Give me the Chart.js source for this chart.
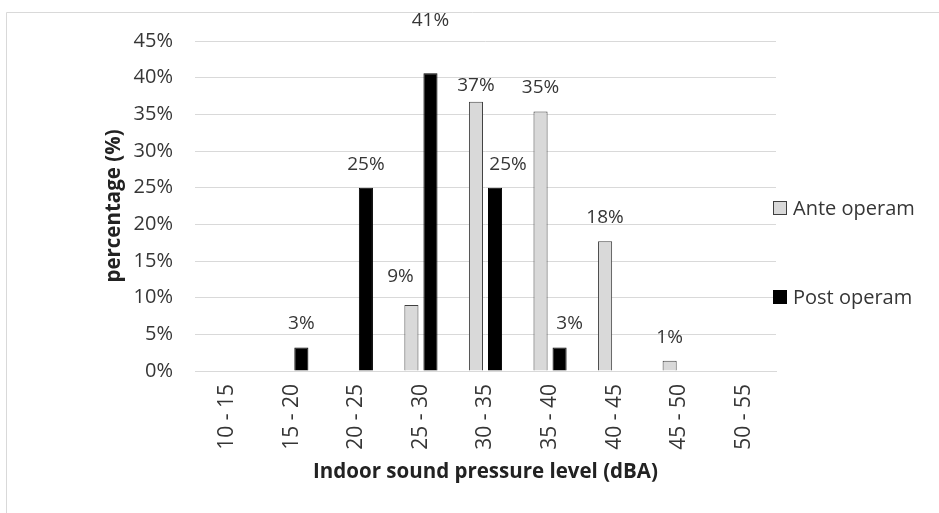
<!DOCTYPE html>
<html>
<head>
<meta charset="utf-8">
<title>Indoor sound pressure level</title>
<script src="https://cdn.jsdelivr.net/npm/chart.js@4/dist/chart.umd.min.js"></script>
<style>
  html, body { margin: 0; padding: 0; background: #ffffff; }
  #wrap { position: relative; width: 939px; height: 513px; }
</style>
</head>
<body>
<div id="wrap"><canvas id="chart"></canvas></div>
<script>
// Sound pressure bands (dBA)
const categories = ['10 - 15', '15 - 20', '20 - 25', '25 - 30', '30 - 35', '35 - 40', '40 - 45', '45 - 50', '50 - 55'];
// Share of measurements per band, in percent (null = no measurement in band)
const anteOperam = [null, null, null, 9.0, 36.7, 35.4, 17.7, 1.4, null];
const postOperam = [null, 3.2, 25.0, 40.6, 25.0, 3.2, null, null, null];
const seriesNames = ['Ante operam', 'Post operam'];
const yTicks = [0, 5, 10, 15, 20, 25, 30, 35, 40, 45];

// Hand placement of a few value labels so they do not collide
const labelNudgeAnte = [[0,0],[0,0],[0,0],[-11,-5],[0,7],[0,0],[0,0],[0,0],[0,0]];
const labelNudgePost = [[0,0],[0,0],[0,0],[0,-29],[13,0],[10,0],[0,0],[0,0],[0,0]];

const FONT = "'Open Sans', 'DejaVu Sans', sans-serif";
const TEXT = '#363636';

const valueLabels = {
  id: 'valueLabels',
  afterDatasetsDraw(chart) {
    const ctx = chart.ctx;
    ctx.save();
    ctx.font = '19px ' + FONT;
    ctx.fillStyle = TEXT;
    ctx.textAlign = 'center';
    ctx.textBaseline = 'middle';
    const nudges = [labelNudgeAnte, labelNudgePost];
    chart.data.datasets.forEach((ds, di) => {
      const meta = chart.getDatasetMeta(di);
      meta.data.forEach((bar, i) => {
        const v = ds.data[i];
        if (v === null || v === undefined) return;
        const [dx, dy] = nudges[di][i];
        ctx.fillText(Math.round(v) + '%', bar.x + dx, bar.y - 23.5 + dy);
      });
    });
    ctx.restore();
  }
};

const sideLegend = {
  id: 'sideLegend',
  afterDraw(chart) {
    const ctx = chart.ctx;
    const x = chart.chartArea.right - 3;
    const rows = [208, 297];
    ctx.save();
    ctx.font = '20px ' + FONT;
    ctx.textAlign = 'left';
    ctx.textBaseline = 'middle';
    chart.data.datasets.forEach((ds, di) => {
      const y = rows[di];
      ctx.fillStyle = ds.backgroundColor;
      ctx.fillRect(x, y - 7, 14, 14);
      ctx.strokeStyle = ds.borderColor;
      ctx.lineWidth = 1;
      ctx.strokeRect(x + 0.5, y - 6.5, 13, 13);
      ctx.fillStyle = TEXT;
      ctx.fillText(ds.label, x + 20, y + 1);
    });
    ctx.restore();
  }
};

const frame = {
  id: 'frame',
  beforeDraw(chart) {
    const ctx = chart.ctx;
    ctx.save();
    ctx.fillStyle = '#ffffff';
    ctx.fillRect(0, 0, chart.width, chart.height);
    ctx.strokeStyle = '#d9d9d9';
    ctx.lineWidth = 1;
    ctx.beginPath();
    ctx.moveTo(6.5, chart.height);
    ctx.lineTo(6.5, 12.5);
    ctx.lineTo(chart.width, 12.5);
    ctx.stroke();
    ctx.restore();
  }
};

new Chart(document.getElementById('chart'), {
  type: 'bar',
  data: {
    labels: categories,
    datasets: [
      {
        label: seriesNames[0],
        data: anteOperam,
        backgroundColor: '#d9d9d9',
        borderColor: '#404040',
        borderWidth: 1,
        categoryPercentage: 0.59,
        barPercentage: 0.74
      },
      {
        label: seriesNames[1],
        data: postOperam,
        backgroundColor: '#000000',
        borderColor: '#000000',
        borderWidth: 1,
        categoryPercentage: 0.59,
        barPercentage: 0.74
      }
    ]
  },
  options: {
    responsive: true,
    maintainAspectRatio: false,
    animation: false,
    layout: { padding: { left: 0, right: 163, top: 41, bottom: 0 } },
    plugins: {
      legend: { display: false },
      tooltip: { enabled: false }
    },
    scales: {
      x: {
        grid: { display: false, drawTicks: false },
        border: { display: true, color: '#d9d9d9', width: 1 },
        ticks: {
          color: TEXT,
          font: { family: FONT, size: 21 },
          minRotation: 90,
          maxRotation: 90,
          padding: 13,
          autoSkip: false
        },
        title: {
          display: true,
          text: 'Indoor sound pressure level (dBA)',
          color: '#222222',
          font: { family: FONT, size: 20.5, weight: 'bold' },
          padding: { top: 4, bottom: 29 }
        },
        afterFit(scale) { scale.height = 142; }
      },
      y: {
        min: 0,
        max: 45,
        afterBuildTicks(scale) { scale.ticks = yTicks.map(v => ({ value: v })); },
        grid: { color: '#d9d9d9', lineWidth: 1, drawTicks: false },
        border: { display: false },
        ticks: {
          color: TEXT,
          font: { family: FONT, size: 20 },
          padding: 22,
          callback: v => v + '%'
        },
        title: {
          display: true,
          text: 'percentage (%)',
          color: '#222222',
          font: { family: FONT, size: 20.5, weight: 'bold' },
          padding: { top: 102, bottom: 0 }
        },
        afterFit(scale) { scale.width = 195; }
      }
    }
  },
  plugins: [frame, valueLabels, sideLegend]
});
</script>
</body>
</html>
